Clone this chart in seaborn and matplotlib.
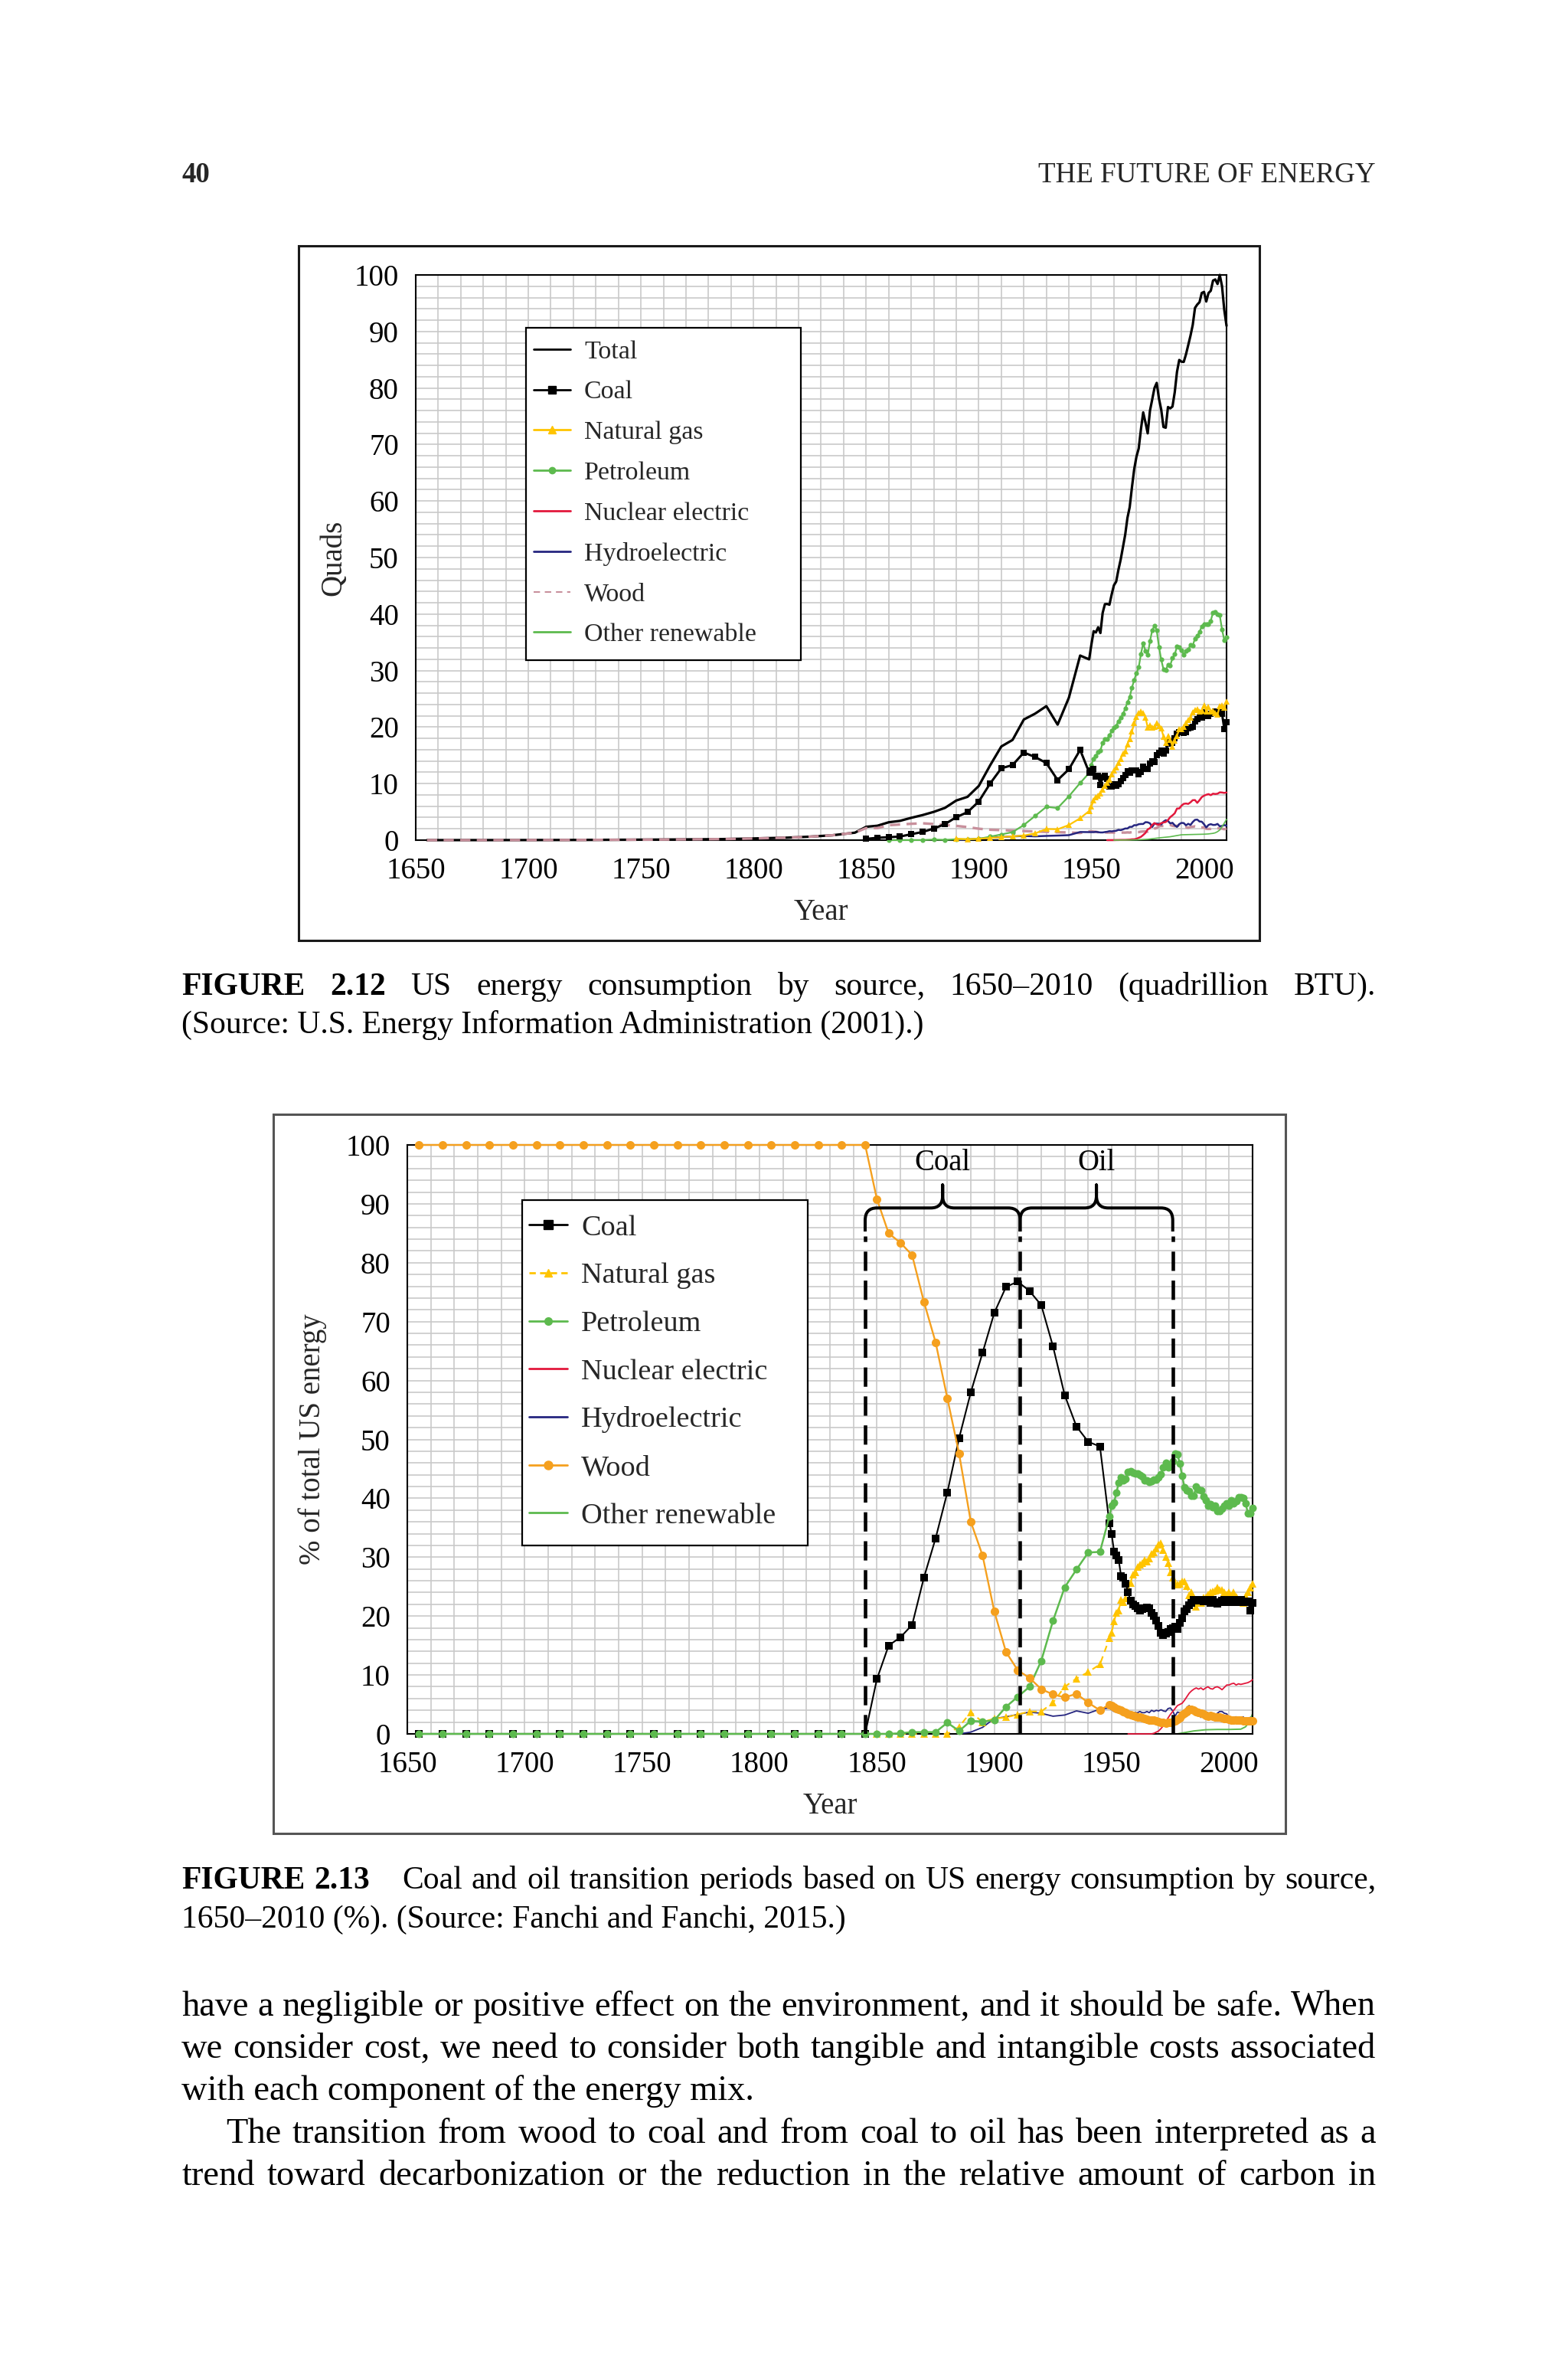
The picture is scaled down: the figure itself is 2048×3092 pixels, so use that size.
import matplotlib.pyplot as plt
import seaborn as sns
from matplotlib.lines import Line2D
from matplotlib.patches import Rectangle, PathPatch
from matplotlib.path import Path

W, H = 2048, 3092
SERIF = ['Liberation Serif', 'DejaVu Serif']

# ---------------- year grids ----------------
yrs_early = list(range(1655, 1846, 10))   # 1655 .. 1845
yrs_mid = list(range(1850, 1946, 5))      # 1850 .. 1945
yrs_annual = list(range(1949, 2011))      # 1949 .. 2010

# ---------------- FIGURE 2.12 : quads ----------------
total_q = ([0.002, 0.005, 0.007, 0.009, 0.014, 0.021, 0.026, 0.038, 0.057, 0.073,
            0.092, 0.117, 0.148, 0.181, 0.249, 0.347, 0.438, 0.612, 0.863, 1.320]
           + [2.36, 2.55, 3.16, 3.41, 3.95, 4.43, 5.00, 5.71, 7.01, 7.66,
              9.59, 13.21, 16.57, 17.73, 21.34, 22.38, 23.71, 20.43, 25.20, 32.66]
           + [31.98, 34.62, 36.97, 36.75, 37.66, 36.64, 40.21, 41.75, 41.79, 41.65,
              43.47, 45.09, 45.74, 47.83, 49.64, 51.82, 54.02, 57.01, 58.91, 62.42,
              65.62, 67.84, 69.29, 72.70, 75.68, 73.91, 71.97, 75.98, 77.96, 79.99,
              80.90, 78.12, 76.17, 73.10, 72.97, 76.63, 76.39, 76.72, 79.23, 82.84,
              84.96, 84.65, 84.61, 85.96, 87.60, 89.26, 91.17, 94.17, 94.76, 95.18,
              96.81, 97.00, 95.30, 96.80, 97.20, 99.00, 99.20, 98.40, 100.0, 98.00,
              93.80, 91.00])
total_q_yrs = yrs_early + yrs_mid + yrs_annual

coal_q = ([0.22, 0.42, 0.52, 0.63, 1.05, 1.44, 2.05, 2.84, 4.06, 4.95,
           6.84, 10.00, 12.71, 13.29, 15.50, 14.71, 13.64, 10.63, 12.54, 15.97]
          + [11.98, 12.35, 12.55, 11.31, 11.37, 9.72, 11.17, 11.35, 10.82, 9.53,
             9.52, 9.84, 9.62, 9.91, 10.41, 10.96, 11.58, 12.14, 11.91, 12.33,
             12.38, 12.27, 11.60, 12.08, 12.97, 12.66, 12.66, 13.58, 13.92, 13.77,
             15.04, 15.42, 15.91, 15.32, 15.89, 17.07, 17.48, 17.26, 18.01, 18.85,
             19.07, 19.17, 18.99, 19.12, 19.84, 19.91, 20.09, 21.00, 21.45, 21.66,
             21.62, 22.58, 21.91, 21.90, 22.32, 22.47, 22.80, 22.45, 22.75, 22.39,
             19.69, 20.82])
coal_q_yrs = yrs_mid + yrs_annual

gas_q = ([0.26, 0.15, 0.25, 0.37, 0.54, 0.67, 0.81, 1.19, 1.97, 1.92, 2.67, 3.87]
         + [5.15, 5.97, 7.05, 7.55, 7.91, 8.33, 9.00, 9.61, 10.19, 10.66,
            11.72, 12.39, 12.93, 13.73, 14.40, 15.29, 15.77, 16.99, 17.94, 19.21,
            20.68, 21.80, 22.47, 22.70, 22.51, 21.73, 19.95, 20.35, 19.93, 20.00,
            20.67, 20.24, 19.75, 18.36, 17.22, 18.39, 17.70, 16.59, 17.64, 18.45,
            19.60, 19.60, 20.03, 20.71, 21.23, 21.73, 22.67, 23.09, 23.22, 22.83,
            22.91, 23.82, 22.77, 23.51, 22.83, 22.91, 22.56, 22.22, 23.70, 23.84,
            23.42, 24.57])
gas_q_yrs = list(range(1890, 1946, 5)) + yrs_annual

pet_q = ([0.003, 0.010, 0.011, 0.011, 0.096, 0.040, 0.156, 0.168, 0.229, 0.610,
          1.007, 1.418, 2.676, 4.280, 5.897, 5.675, 7.760, 10.110]
         + [11.88, 13.32, 14.43, 14.96, 15.56, 15.84, 17.25, 17.94, 17.93, 18.53,
            19.32, 19.92, 20.22, 21.05, 21.70, 22.30, 23.25, 24.40, 25.28, 26.98,
            28.34, 29.52, 30.56, 32.95, 34.84, 33.45, 32.73, 35.18, 37.12, 37.97,
            37.12, 34.21, 31.93, 30.23, 30.05, 31.05, 30.92, 32.20, 32.87, 34.22,
            34.21, 33.55, 32.85, 33.53, 33.74, 34.56, 34.44, 35.68, 36.16, 36.82,
            37.84, 38.26, 38.19, 38.23, 38.81, 40.29, 40.39, 39.96, 39.77, 37.28,
            35.40, 35.97])
pet_q_yrs = list(range(1860, 1946, 5)) + yrs_annual

nuc_q = [0.0, 0.002, 0.002, 0.006, 0.02, 0.026, 0.038, 0.04, 0.043, 0.064,
         0.088, 0.142, 0.154, 0.239, 0.413, 0.584, 0.910, 1.272, 1.900, 2.111,
         2.702, 3.024, 2.776, 2.739, 3.008, 3.131, 3.203, 3.553, 4.076, 4.380,
         4.754, 5.587, 5.602, 6.104, 6.422, 6.479, 6.410, 6.694, 7.075, 7.087,
         6.597, 7.068, 7.610, 7.862, 8.029, 8.145, 7.959, 8.222, 8.161, 8.215,
         8.455, 8.427, 8.356, 8.434]
nuc_q_yrs = list(range(1957, 2011))

hydro_q = ([0.02, 0.09, 0.25, 0.39, 0.54, 0.66, 0.74, 0.67, 0.75, 0.81, 0.88, 1.44]
           + [1.42, 1.42, 1.42, 1.47, 1.41, 1.36, 1.36, 1.43, 1.48, 1.59,
              1.55, 1.61, 1.66, 1.82, 1.77, 1.89, 2.06, 2.06, 2.35, 2.35,
              2.65, 2.63, 2.82, 2.86, 2.86, 3.18, 3.15, 2.98, 2.33, 2.94,
              2.93, 2.90, 2.76, 3.27, 3.53, 3.39, 2.97, 3.07, 2.63, 2.33,
              2.84, 3.05, 3.02, 2.62, 2.89, 2.68, 3.21, 3.59, 3.64, 3.30,
              3.27, 2.81, 2.24, 2.69, 2.83, 2.69, 2.70, 2.87, 2.45, 2.51,
              2.67, 2.54])
hydro_q_yrs = list(range(1890, 1946, 5)) + yrs_annual

wood_q = ([0.002, 0.005, 0.007, 0.009, 0.014, 0.021, 0.026, 0.038, 0.057, 0.073,
           0.092, 0.117, 0.148, 0.181, 0.249, 0.347, 0.438, 0.612, 0.863, 1.320]
          + [2.14, 2.13, 2.64, 2.77, 2.89, 2.98, 2.85, 2.68, 2.52, 2.31,
             2.02, 1.84, 1.77, 1.69, 1.61, 1.53, 1.46, 1.40, 1.36, 1.26]
          + [1.55, 1.56, 1.51, 1.47, 1.41, 1.39, 1.42, 1.39, 1.34, 1.33,
             1.35, 1.32, 1.30, 1.32, 1.33, 1.34, 1.33, 1.37, 1.34, 1.42,
             1.44, 1.43, 1.43, 1.50, 1.53, 1.54, 1.50, 1.71, 1.84, 2.04,
             2.15, 2.47, 2.50, 2.51, 2.62, 2.68, 2.69, 2.54, 2.47, 2.54,
             2.56, 2.22, 2.19, 2.28, 2.19, 2.32, 2.37, 2.44, 2.37, 2.18,
             2.23, 2.26, 2.01, 1.98, 2.00, 2.12, 2.14, 2.11, 2.06, 2.04,
             1.93, 2.05])
wood_q_yrs = yrs_early + yrs_mid + yrs_annual

other_q_yrs = [1960, 1965, 1970, 1975, 1980, 1985, 1990, 1995, 2000, 2002,
               2004, 2005, 2006, 2007, 2008, 2009, 2010]
other_q = [0.0, 0.02, 0.05, 0.15, 0.4, 0.6, 0.95, 1.0, 1.05, 1.1,
           1.2, 1.3, 1.5, 1.8, 2.4, 3.0, 3.7]

# ---------------- FIGURE 2.13 : percent of total ----------------
coal_p = ([0.0] * 20
          + [9.3, 15.0, 16.4, 18.5, 26.5, 33.2, 41.0, 50.2, 58.0, 64.7,
             71.5, 75.9, 76.8, 75.2, 72.8, 65.8, 57.5, 52.2, 49.6, 48.8]
          + [35.8, 33.9, 31.0, 30.3, 29.5, 26.8, 26.5, 25.5, 24.0, 22.6,
             22.0, 21.7, 21.3, 21.0, 21.2, 21.3, 21.4, 21.3, 20.5, 20.0,
             19.3, 18.3, 17.2, 16.8, 17.0, 17.3, 17.8, 18.0, 18.2, 17.8,
             18.8, 19.7, 20.8, 21.2, 21.8, 22.3, 22.8, 22.6, 22.7, 22.8,
             22.5, 22.7, 22.5, 22.3, 22.7, 22.4, 22.1, 22.4, 22.6, 22.8,
             22.4, 22.8, 22.7, 22.4, 22.7, 22.4, 22.7, 22.5, 22.4, 22.5,
             21.0, 22.2])
coal_p_yrs = yrs_early + yrs_mid + yrs_annual

gas_p = ([0.0, 0.0, 0.0, 0.0, 0.0, 0.0, 0.0, 1.2, 3.7, 2.0,
          2.6, 2.8, 3.3, 3.8, 3.8, 5.3, 8.0, 9.4, 10.5, 11.8]
         + [16.2, 17.2, 19.1, 20.5, 21.0, 22.7, 22.4, 23.0, 24.4, 25.6,
            27.0, 27.5, 28.3, 28.7, 29.0, 29.5, 29.2, 29.8, 30.5, 30.8,
            31.5, 32.1, 32.4, 31.2, 30.0, 29.0, 27.5, 26.5, 25.5, 25.3,
            25.5, 25.9, 25.9, 25.1, 23.6, 24.0, 23.2, 21.6, 22.3, 22.3,
            23.1, 23.2, 23.7, 24.1, 24.2, 24.3, 24.9, 24.5, 24.5, 24.0,
            23.7, 24.1, 23.6, 24.0, 23.3, 22.8, 22.5, 22.3, 23.4, 24.0,
            24.8, 25.5])
gas_p_yrs = yrs_mid + yrs_annual

pet_p = ([0.0] * 20
         + [0.0, 0.0, 0.1, 0.3, 0.3, 0.3, 1.9, 0.5, 2.2, 2.1,
            2.3, 4.6, 6.3, 8.0, 12.4, 19.2, 24.9, 27.9, 30.8, 30.9]
         + [36.9, 38.7, 39.3, 40.9, 42.7, 43.5, 43.0, 43.3, 44.5, 44.6,
            44.4, 44.2, 44.2, 44.0, 43.7, 43.0, 43.0, 42.8, 42.9, 43.2,
            43.2, 43.5, 44.1, 45.3, 46.0, 45.3, 45.5, 46.3, 47.6, 47.5,
            45.9, 43.8, 41.9, 41.4, 41.2, 40.5, 40.5, 42.0, 41.5, 41.3,
            40.3, 39.6, 38.8, 39.0, 38.5, 38.7, 37.8, 37.9, 38.2, 38.7,
            39.1, 38.7, 39.6, 39.1, 39.5, 40.2, 40.2, 40.0, 39.2, 37.5,
            37.4, 38.3])
pet_p_yrs = yrs_early + yrs_mid + yrs_annual

nuc_p = [0.0, 0.0, 0.0, 0.0, 0.0, 0.0, 0.0, 0.0, 0.0, 0.0,
         0.0, 0.1, 0.3, 0.5, 0.9, 1.4, 2.0, 2.7, 3.3, 3.8,
         4.3, 4.8, 5.0, 5.2, 5.7, 6.3, 6.9, 7.3, 7.6, 7.8,
         7.6, 7.8, 7.5, 7.8, 8.0, 7.7, 7.6, 7.9, 8.0, 7.8,
         7.5, 7.9, 8.3, 8.3, 8.5, 8.6, 8.3, 8.5, 8.4, 8.5,
         8.6, 8.7, 8.9, 9.2]
nuc_p_yrs = list(range(1957, 2011))

hydro_p = ([0.0, 0.3, 1.1, 2.6, 2.9, 3.3, 3.7, 3.5, 3.0, 3.2, 3.9, 3.5, 4.2]
           + [4.4, 4.1, 3.8, 4.0, 3.7, 3.7, 3.4, 3.4, 3.5, 3.8,
              3.6, 3.6, 3.6, 3.8, 3.6, 3.6, 3.8, 3.6, 4.0, 3.8,
              4.0, 3.9, 4.1, 3.9, 3.8, 4.3, 4.4, 3.9, 3.0, 3.7,
              3.6, 3.7, 3.6, 4.5, 4.8, 4.4, 3.9, 4.0, 3.3, 2.8,
              3.3, 3.6, 3.6, 3.0, 3.3, 3.0, 3.5, 3.8, 3.8, 3.5,
              3.4, 2.8, 2.3, 2.7, 2.9, 2.7, 2.7, 2.9, 2.4, 2.5,
              2.8, 2.6])
hydro_p_yrs = list(range(1885, 1946, 5)) + yrs_annual

wood_p = ([100.0] * 20
          + [90.8, 85.0, 83.4, 81.3, 73.4, 66.5, 57.0, 47.6, 36.0, 30.3,
             20.8, 13.9, 10.8, 9.5, 7.6, 6.7, 6.2, 6.8, 5.3, 4.0]
          + [5.0, 4.8, 4.5, 4.3, 4.1, 4.0, 3.8, 3.6, 3.4, 3.3,
             3.1, 3.0, 2.9, 2.8, 2.7, 2.6, 2.5, 2.4, 2.3, 2.3,
             2.2, 2.1, 2.0, 1.9, 1.8, 1.9, 1.9, 2.1, 2.2, 2.5,
             2.7, 3.2, 3.5, 3.8, 4.1, 4.2, 4.0, 3.8, 3.6, 3.5,
             3.4, 3.1, 3.0, 3.1, 3.0, 2.9, 2.9, 2.8, 2.7, 2.6,
             2.6, 2.5, 2.4, 2.4, 2.3, 2.3, 2.3, 2.2, 2.2, 2.2,
             2.2, 2.2])
wood_p_yrs = yrs_early + yrs_mid + yrs_annual

other_p_yrs = [1655, 1750, 1850, 1900, 1950, 1978, 1985, 1990, 1995, 2000,
               2005, 2007, 2008, 2009, 2010]
other_p = [0.0, 0.0, 0.0, 0.0, 0.0, 0.0, 0.5, 0.7, 0.75, 0.75,
           0.8, 1.2, 1.7, 2.5, 3.4]

transition_years = [1845, 1911, 1976]
transition_names = ['Coal', 'Oil']

# ---------------- colours ----------------
C_COAL = 'black'
C_GAS = '#FFC400'
C_PET = '#5DBA4E'
C_NUC = '#E2183C'
C_HYD = '#262680'
C_WOOD_T = '#C8909C'
C_WOOD_B = '#F5A01E'
C_OTH = '#5DBA4E'
C_GRID = '#C9C9C9'

sns.set_theme(style='white')
plt.rcParams['font.family'] = SERIF
plt.rcParams['mathtext.fontset'] = 'stix'

fig = plt.figure(figsize=(W / 100, H / 100), dpi=100)
fig.patch.set_facecolor('white')


def fx(x):
    return x / W


def fy(y):
    return 1 - y / H


def series(ax, x, y, color, lw, marker=None, ms=0, ls='-', z=2):
    # markers sitting on 0 or 100 are drawn whole, as in the source chart
    sns.lineplot(x=x, y=y, ax=ax, color=color, linewidth=lw, linestyle=ls,
                 marker=marker, markersize=ms, markeredgewidth=0,
                 markeredgecolor=color, markerfacecolor=color,
                 errorbar=None, legend=False, zorder=z, clip_on=False)


def style_axes(ax, ticksize):
    ax.set_xlim(1650, 2010)
    ax.set_ylim(0, 100)
    ax.set_xticks(range(1650, 2001, 50))
    ax.set_xticks(range(1650, 2011, 10), minor=True)
    ax.set_yticks(range(0, 101, 10))
    ax.set_yticks(range(0, 101, 2), minor=True)
    ax.grid(which='both', color=C_GRID, linewidth=1.2, zorder=0)
    ax.set_axisbelow(True)
    for sp in ax.spines.values():
        sp.set_color('black')
        sp.set_linewidth(1.5)
    ax.tick_params(which='major', direction='out', length=8, width=1.5,
                   labelsize=ticksize, colors='black', pad=8)
    ax.tick_params(which='minor', length=0)
    ax.set_facecolor('white')


# ================= FIGURE 2.12 =================
ax1 = fig.add_axes([fx(543), fy(1097), fx(1602 - 543), (1097 - 359) / H])
series(ax1, total_q_yrs, total_q, 'black', 2.3, z=2)
series(ax1, wood_q_yrs, wood_q, C_WOOD_T, 2.4, ls=(0, (4, 2.5)), z=3)
series(ax1, hydro_q_yrs, hydro_q, C_HYD, 1.8, z=3)
series(ax1, nuc_q_yrs, nuc_q, C_NUC, 1.8, z=3)
series(ax1, other_q_yrs, other_q, C_OTH, 1.2, z=3)
series(ax1, pet_q_yrs, pet_q, C_PET, 1.6, marker='o', ms=4.5, z=4)
series(ax1, coal_q_yrs, coal_q, C_COAL, 2.2, marker='s', ms=6, z=5)
series(ax1, gas_q_yrs, gas_q, C_GAS, 1.6, marker='^', ms=6, z=6)
style_axes(ax1, 28)
ax1.set_xlabel('Year', fontsize=28)
ax1.xaxis.label.set_va('center')
ax1.xaxis.set_label_coords(0.5, (1097 - 1191) / 738)
ax1.set_ylabel('Quads', fontsize=28)
ax1.yaxis.label.set_va('center')
ax1.yaxis.set_label_coords((436 - 543) / 1059, 0.5)

h1 = [Line2D([], [], color='black', lw=2.0),
      Line2D([], [], color=C_COAL, lw=2.0, marker='s', ms=7),
      Line2D([], [], color=C_GAS, lw=2.0, marker='^', ms=7),
      Line2D([], [], color=C_PET, lw=2.0, marker='o', ms=6),
      Line2D([], [], color=C_NUC, lw=2.0),
      Line2D([], [], color=C_HYD, lw=2.0),
      Line2D([], [], color=C_WOOD_T, lw=1.5, ls=(0, (4, 3))),
      Line2D([], [], color=C_OTH, lw=2.0)]
l1 = ['Total', 'Coal', 'Natural gas', 'Petroleum', 'Nuclear electric',
      'Hydroelectric', 'Wood', 'Other renewable']
ax1.add_patch(Rectangle((fx(687), fy(862)), (1046 - 687) / W, (862 - 428) / H,
                        transform=fig.transFigure, facecolor='white',
                        edgecolor='black', lw=1.6, zorder=9, clip_on=False))
leg1 = ax1.legend(h1, l1, loc='upper left', bbox_to_anchor=(fx(697), fy(444)),
                  bbox_transform=fig.transFigure, frameon=False,
                  prop={'family': SERIF, 'size': 24.4}, handlelength=1.42,
                  handletextpad=0.53, labelspacing=0.65, borderpad=0,
                  borderaxespad=0)
leg1.set_zorder(10)

# ================= FIGURE 2.13 =================
ax2 = fig.add_axes([fx(532), fy(2264), fx(1636 - 532), (2264 - 1495) / H])
series(ax2, other_p_yrs, other_p, C_OTH, 1.4, z=2)
series(ax2, hydro_p_yrs, hydro_p, C_HYD, 1.3, z=3)
series(ax2, nuc_p_yrs, nuc_p, C_NUC, 1.3, z=3)
series(ax2, gas_p_yrs, gas_p, C_GAS, 1.5, marker='^', ms=7, ls=(0, (4, 3)), z=4)
series(ax2, coal_p_yrs, coal_p, C_COAL, 1.5, marker='s', ms=7.5, z=5)
series(ax2, pet_p_yrs, pet_p, C_PET, 1.8, marker='o', ms=7.2, z=6)
series(ax2, wood_p_yrs, wood_p, C_WOOD_B, 1.7, marker='o', ms=8, z=6)
style_axes(ax2, 28)
ax2.set_xlabel('Year', fontsize=28)
ax2.xaxis.label.set_va('center')
ax2.xaxis.set_label_coords(0.5, (2264 - 2358) / 769)
ax2.set_ylabel('% of total US energy', fontsize=28)
ax2.yaxis.label.set_va('center')
ax2.yaxis.set_label_coords((408 - 532) / 1104, 0.5)

# transition markers: dashed verticals and curly braces
for x in transition_years:
    ax2.plot([x, x], [0, 84.5], color='black', lw=3.3,
             linestyle=(0, (5.5, 2.75)), zorder=8)


def brace(ax, x0, x1, yb, ytip, yend, rx, ry):
    xm = (x0 + x1) / 2
    verts = [(x0, yend), (x0, yb - ry), (x0, yb), (x0 + rx, yb),
             (xm - rx, yb), (xm, yb), (xm, yb + ry), (xm, ytip),
             (xm, yb + ry), (xm, yb), (xm + rx, yb),
             (x1 - rx, yb), (x1, yb), (x1, yb - ry), (x1, yend)]
    codes = [Path.MOVETO, Path.LINETO, Path.CURVE3, Path.CURVE3,
             Path.LINETO, Path.CURVE3, Path.CURVE3, Path.LINETO,
             Path.LINETO, Path.CURVE3, Path.CURVE3,
             Path.LINETO, Path.CURVE3, Path.CURVE3, Path.LINETO]
    ax.add_patch(PathPatch(Path(verts, codes), facecolor='none',
                           edgecolor='black', lw=2.9, zorder=8,
                           capstyle='butt', joinstyle='round'))
    return xm


for name, a, b in zip(transition_names, transition_years[:-1], transition_years[1:]):
    xm = brace(ax2, a, b, 89.3, 93.2, 85.3, 5.0, 2.1)
    ax2.text(xm, 97.0, name, ha='center', va='center', fontsize=27.8,
             color='black', zorder=9)

h2 = [Line2D([], [], color=C_COAL, lw=2.0, marker='s', ms=8),
      Line2D([], [], color=C_GAS, lw=2.0, ls=(0, (3, 2)), marker='^', ms=7),
      Line2D([], [], color=C_PET, lw=2.0, marker='o', ms=7),
      Line2D([], [], color=C_NUC, lw=2.0),
      Line2D([], [], color=C_HYD, lw=2.0),
      Line2D([], [], color=C_WOOD_B, lw=2.0, marker='o', ms=8),
      Line2D([], [], color=C_OTH, lw=2.0)]
l2 = ['Coal', 'Natural gas', 'Petroleum', 'Nuclear electric',
      'Hydroelectric', 'Wood', 'Other renewable']
ax2.add_patch(Rectangle((fx(682), fy(2018)), (1055 - 682) / W, (2018 - 1567) / H,
                        transform=fig.transFigure, facecolor='white',
                        edgecolor='black', lw=1.6, zorder=9, clip_on=False))
leg2 = ax2.legend(h2, l2, loc='upper left', bbox_to_anchor=(fx(691), fy(1586)),
                  bbox_transform=fig.transFigure, frameon=False,
                  prop={'family': SERIF, 'size': 27.5}, handlelength=1.31,
                  handletextpad=0.47, labelspacing=0.73, borderpad=0,
                  borderaxespad=0)
leg2.set_zorder(10)

# outer figure frames
fig.add_artist(Rectangle((fx(390), fy(1228)), (1645 - 390) / W, (1228 - 321) / H,
                         transform=fig.transFigure, fill=False,
                         edgecolor='#1a1a1a', lw=2.2))
fig.add_artist(Rectangle((fx(357), fy(2394)), (1679 - 357) / W, (2394 - 1455) / H,
                         transform=fig.transFigure, fill=False,
                         edgecolor='#555555', lw=2.2))

# ================= page text =================
renderer = fig.canvas.get_renderer()
LEFT, RIGHT = 237, 1797


def fit_size(s, target, weight='normal'):
    t = fig.text(0, 0, s, size=20, family=SERIF, weight=weight)
    w = t.get_window_extent(renderer).width
    t.remove()
    return 20 * target / w


def words(s, weight='normal'):
    return [(w, weight, 0) for w in s.split()]


def put_line(tokens, y, size, indent=0):
    placed = []
    for word, weight, extra in tokens:
        t = fig.text(0, fy(y), word, size=size, family=SERIF, weight=weight,
                     ha='left', va='baseline', color='black')
        placed.append((t, t.get_window_extent(renderer).width, extra))
    used = sum(w for _, w, _ in placed) + sum(e for _, _, e in placed[:-1])
    gap = (RIGHT - LEFT - indent - used) / (len(placed) - 1)
    x = LEFT + indent
    for t, w, extra in placed:
        t.set_x(fx(x))
        x += w + gap + extra


def put_plain(s, y, size, weight='normal'):
    fig.text(fx(LEFT), fy(y), s, size=size, family=SERIF, weight=weight,
             ha='left', va='baseline', color='black')


head_size = fit_size('THE FUTURE OF ENERGY', 441)
fig.text(fx(LEFT), fy(238), '40', size=head_size, family=SERIF,
         weight='bold', ha='left', va='baseline')
fig.text(fx(RIGHT), fy(238), 'THE FUTURE OF ENERGY', size=head_size,
         family=SERIF, ha='right', va='baseline')

cap_size = fit_size('1650\u20132010 (%). (Source: Fanchi and Fanchi, 2015.)', 866)
put_line(words('FIGURE 2.12', 'bold')
         + words('US energy consumption by source, 1650\u20132010 (quadrillion BTU).'),
         1299, cap_size)
put_plain('(Source: U.S. Energy Information Administration (2001).)', 1349, cap_size)

cap2 = [('FIGURE', 'bold', 0), ('2.13', 'bold', 30)]
put_line(cap2 + words('Coal and oil transition periods based on US energy '
                      'consumption by source,'), 2466, cap_size)
put_plain('1650\u20132010 (%). (Source: Fanchi and Fanchi, 2015.)', 2517, cap_size)

body_size = fit_size('with each component of the energy mix.', 747)
put_line(words('have a negligible or positive effect on the environment, and it '
               'should be safe. When'), 2632, body_size)
put_line(words('we consider cost, we need to consider both tangible and intangible '
               'costs associated'), 2687, body_size)
put_plain('with each component of the energy mix.', 2742, body_size)
put_line(words('The transition from wood to coal and from coal to oil has been '
               'interpreted as a'), 2798, body_size, indent=58)
put_line(words('trend toward decarbonization or the reduction in the relative '
               'amount of carbon in'), 2853, body_size)

fig.savefig('out.png', dpi=100, facecolor='white')
